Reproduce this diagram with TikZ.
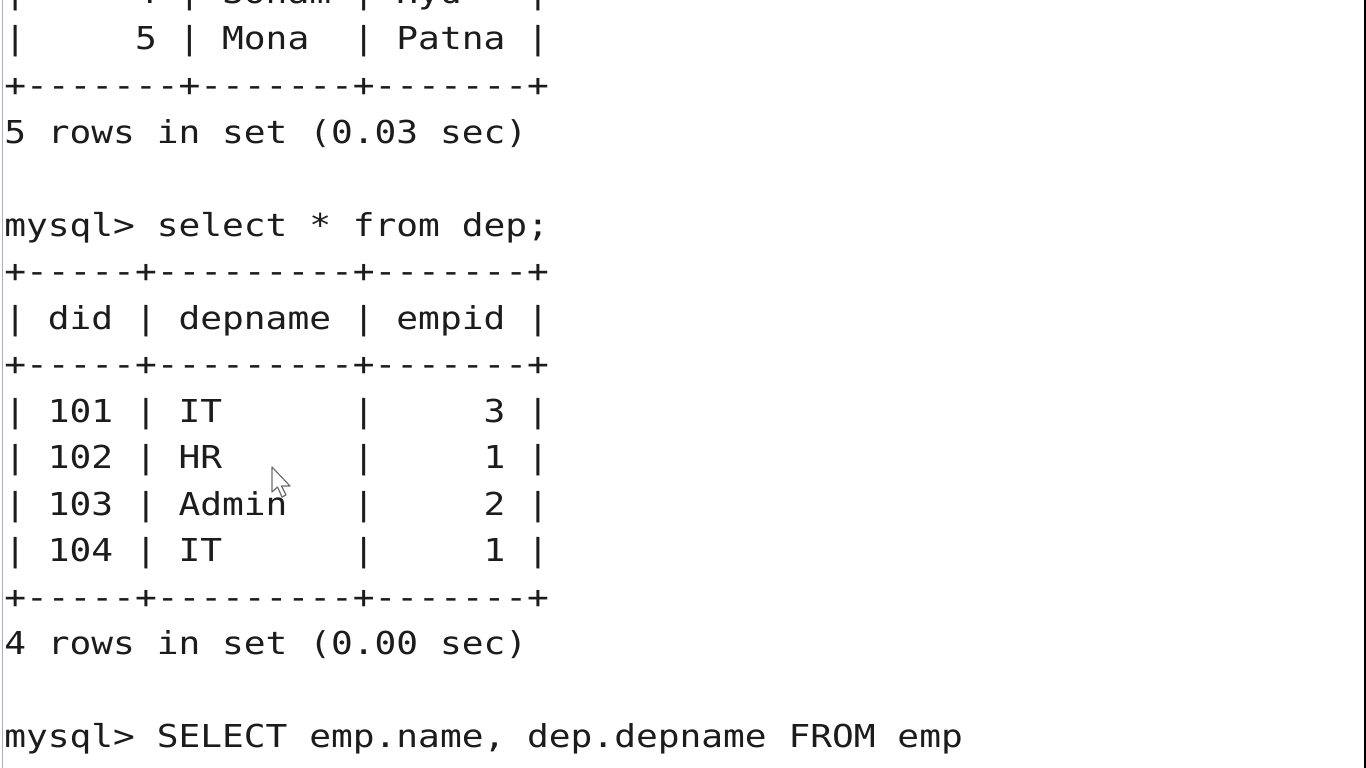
\documentclass[tikz,border=0pt]{standalone}
\usepackage{fontspec}
\setmonofont[FakeStretch=1.147,WordSpace={1,0,0}]{DejaVu Sans Mono}
\definecolor{term}{HTML}{1C1C1C}
\definecolor{leftedge}{HTML}{A9B0BC}
\definecolor{pointer}{HTML}{6E6E6E}
\begin{document}
\begin{tikzpicture}[x=1pt,y=-1pt,
  txt/.style={anchor=base west, inner sep=0pt, text=term,
    font=\ttfamily\fontsize{31.55}{40}\selectfont}]
\useasboundingbox (0,0) rectangle (1366,768);
\clip (0,0) rectangle (1366,768);
\fill[white] (0,0) rectangle (1366,768);
% terminal lines (baseline = 50 + 46.5 k)
\node[txt] (l0)  at (4.1,3.5)   {|~~~~~4~|~Sonam~|~Hyd~~~|};
\node[txt] (l1)  at (4.1,50)    {|~~~~~5~|~Mona~~|~Patna~|};
\node[txt] (l2)  at (4.1,96.5)  {+-------+-------+-------+};
\node[txt] (l3)  at (4.1,143)   {5~rows~in~set~(0.03~sec)};
\node[txt] (l5)  at (4.1,236)   {mysql>~select~*~from~dep;};
\node[txt] (l6)  at (4.1,282.5) {+-----+---------+-------+};
\node[txt] (l7)  at (4.1,329)   {|~did~|~depname~|~empid~|};
\node[txt] (l8)  at (4.1,375.5) {+-----+---------+-------+};
\node[txt] (l9)  at (4.1,422)   {|~101~|~IT~~~~~~|~~~~~3~|};
\node[txt] (l10) at (4.1,468.5) {|~102~|~HR~~~~~~|~~~~~1~|};
\node[txt] (l11) at (4.1,515)   {|~103~|~Admin~~~|~~~~~2~|};
\node[txt] (l12) at (4.1,561.5) {|~104~|~IT~~~~~~|~~~~~1~|};
\node[txt] (l13) at (4.1,608)   {+-----+---------+-------+};
\node[txt] (l14) at (4.1,654.5) {4~rows~in~set~(0.00~sec)};
\node[txt] (l16) at (4.1,747.5) {mysql>~SELECT~emp.name,~dep.depname~FROM~emp};
% mouse pointer
\draw[pointer, fill=white, line join=round, line width=1.2pt]
  (272,467) -- (272,492) -- (277.5,487) -- (282,497) -- (286,495)
  -- (281.5,486) -- (290,486) -- cycle;
% window edges
\fill[leftedge] (1.5,0) rectangle (3,768);
\fill[black] (1363.5,0) rectangle (1366,768);
\end{tikzpicture}
\end{document}
